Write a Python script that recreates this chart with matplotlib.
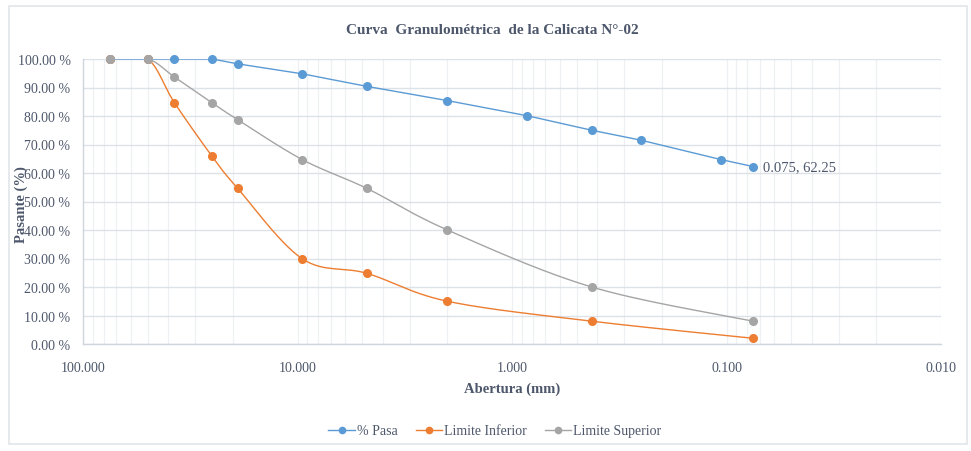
import numpy as np
import matplotlib
matplotlib.use("Agg")
import matplotlib.pyplot as plt
from matplotlib.ticker import FuncFormatter, LogLocator, FixedLocator
from matplotlib.patches import FancyBboxPatch

# ---- data ----
title = "Curva  Granulométrica  de la Calicata N°-02"
xlabel = "Abertura (mm)"
ylabel = "Pasante (%)"

pasa_x = [75, 50, 37.5, 25, 19, 9.5, 4.75, 2, 0.85, 0.425, 0.25, 0.106, 0.075]
pasa_y = [100, 100, 100, 100, 98.3, 94.8, 90.4, 85.4, 80.1, 75.0, 71.5, 64.7, 62.25]

lim_x = [75, 50, 37.5, 25, 19, 9.5, 4.75, 2, 0.425, 0.075]
inf_y = [100, 100, 84.7, 65.8, 54.6, 29.9, 24.8, 15, 8, 2]
sup_y = [100, 100, 93.7, 84.6, 78.7, 64.7, 54.6, 40, 20, 8]

series_names = ["% Pasa", "Limite Inferior", "Limite Superior"]
colors = ["#5B9BD5", "#ED7D31", "#A5A5A5"]

text_color = "#4d576b"
plt.rcParams['font.family'] = ['Liberation Serif', 'DejaVu Serif']

fig = plt.figure(figsize=(9.71, 4.52), dpi=100)
W, H = 971, 452
ax = fig.add_axes([83 / W, 1 - 345 / H, (941 - 83) / W, (345 - 60) / H])

ax.set_xscale('log')
ax.set_xlim(100, 0.01)
ax.set_ylim(0, 100)

PX_PER_DEC = 214.0
PX_PER_PCT = 2.85


def smooth(xs, ys, n=30):
    # Catmull-Rom style Bezier smoothing in screen-like (log x, y) space
    u = np.log10(np.asarray(xs, float)) * PX_PER_DEC
    v = np.asarray(ys, float) * PX_PER_PCT
    P = np.column_stack([u, v])
    out = [P[0]]
    for i in range(len(P) - 1):
        p0 = P[i - 1] if i > 0 else P[i]
        p1 = P[i]
        p2 = P[i + 1]
        p3 = P[i + 2] if i + 2 < len(P) else P[i + 1]
        c1 = p1 + (p2 - p0) / 6.0
        c2 = p2 - (p3 - p1) / 6.0
        t = np.linspace(0, 1, n)[1:, None]
        seg = ((1 - t) ** 3) * p1 + 3 * ((1 - t) ** 2) * t * c1 + 3 * (1 - t) * t ** 2 * c2 + t ** 3 * p2
        out.extend(seg)
    out = np.array(out)
    return 10 ** (out[:, 0] / PX_PER_DEC), out[:, 1] / PX_PER_PCT


# grid
ax.yaxis.set_major_locator(FixedLocator(np.arange(0, 101, 10)))
ax.xaxis.set_major_locator(FixedLocator([100, 10, 1, 0.1, 0.01]))
ax.xaxis.set_minor_locator(LogLocator(base=10, subs=np.arange(2, 10)))
ax.grid(True, which='major', axis='y', color='#dde1e8', lw=1.0)
ax.grid(True, which='major', axis='x', color='#eef0f3', lw=0.9)
ax.grid(True, which='minor', axis='x', color='#eef0f3', lw=0.9)
ax.set_axisbelow(True)

ms = 5.5
# lines (clipped at the plot area, like the original)
ax.plot(pasa_x, pasa_y, color=colors[0], lw=1.0, zorder=3)
sx, sy = smooth(lim_x, inf_y)
ax.plot(sx, sy, color=colors[1], lw=1.0, zorder=4)
sx, sy = smooth(lim_x, sup_y)
ax.plot(sx, sy, color=colors[2], lw=1.0, zorder=5)
# markers (not clipped)
ax.plot(pasa_x, pasa_y, ls='none', color=colors[0], marker='o', ms=ms, zorder=3, clip_on=False)
ax.plot(lim_x, inf_y, ls='none', color=colors[1], marker='o', ms=ms, zorder=4, clip_on=False)
ax.plot(lim_x, sup_y, ls='none', color=colors[2], marker='o', ms=ms, zorder=5, clip_on=False)

# legend handles
h = [plt.Line2D([], [], color=c, lw=1.0, marker='o', ms=4.5) for c in colors]
fig.legend(h, series_names, loc='center', bbox_to_anchor=(495 / W, 1 - 432 / H),
           ncol=3, frameon=False, fontsize=10, labelcolor=text_color,
           handlelength=1.9, handletextpad=0.15, columnspacing=1.3)

# data label
ax.annotate(f"{pasa_x[-1]:.3f}, {pasa_y[-1]:.2f}", (pasa_x[-1], pasa_y[-1]),
            xytext=(7, 0), textcoords='offset points', ha='left', va='center',
            fontsize=10.5, color=text_color)

ax.yaxis.set_major_formatter(FuncFormatter(lambda v, p: f"{v:.2f} %"))
ax.xaxis.set_major_formatter(FuncFormatter(lambda v, p: f"{v:.3f}"))
ax.xaxis.set_minor_formatter(FuncFormatter(lambda v, p: ""))
ax.tick_params(axis='both', which='both', length=0, labelsize=10, labelcolor=text_color)
ax.tick_params(axis='x', pad=12)
ax.tick_params(axis='y', pad=9)

for s in ['top', 'right']:
    ax.spines[s].set_visible(False)
for s in ['left', 'bottom']:
    ax.spines[s].set_color('#d0d5dd')
    ax.spines[s].set_linewidth(1.0)

fig.text(492 / W, 1 - 30 / H, title, ha='center', va='center', fontsize=11,
         fontweight='bold', color=text_color)
fig.text(512 / W, 1 - 389 / H, xlabel, ha='center', va='center', fontsize=10.5,
         fontweight='bold', color=text_color)
fig.text(21 / W, 1 - 205 / H, ylabel, ha='center', va='center', fontsize=10.5,
         fontweight='bold', color=text_color, rotation=90)

# chart border
fig.patches.append(FancyBboxPatch((9 / W, 7 / H), 958 / W, 438 / H,
                                  boxstyle='square,pad=0', transform=fig.transFigure,
                                  fill=False, edgecolor='#e3e6ea', lw=1.2))

fig.savefig("out.png", dpi=100)
